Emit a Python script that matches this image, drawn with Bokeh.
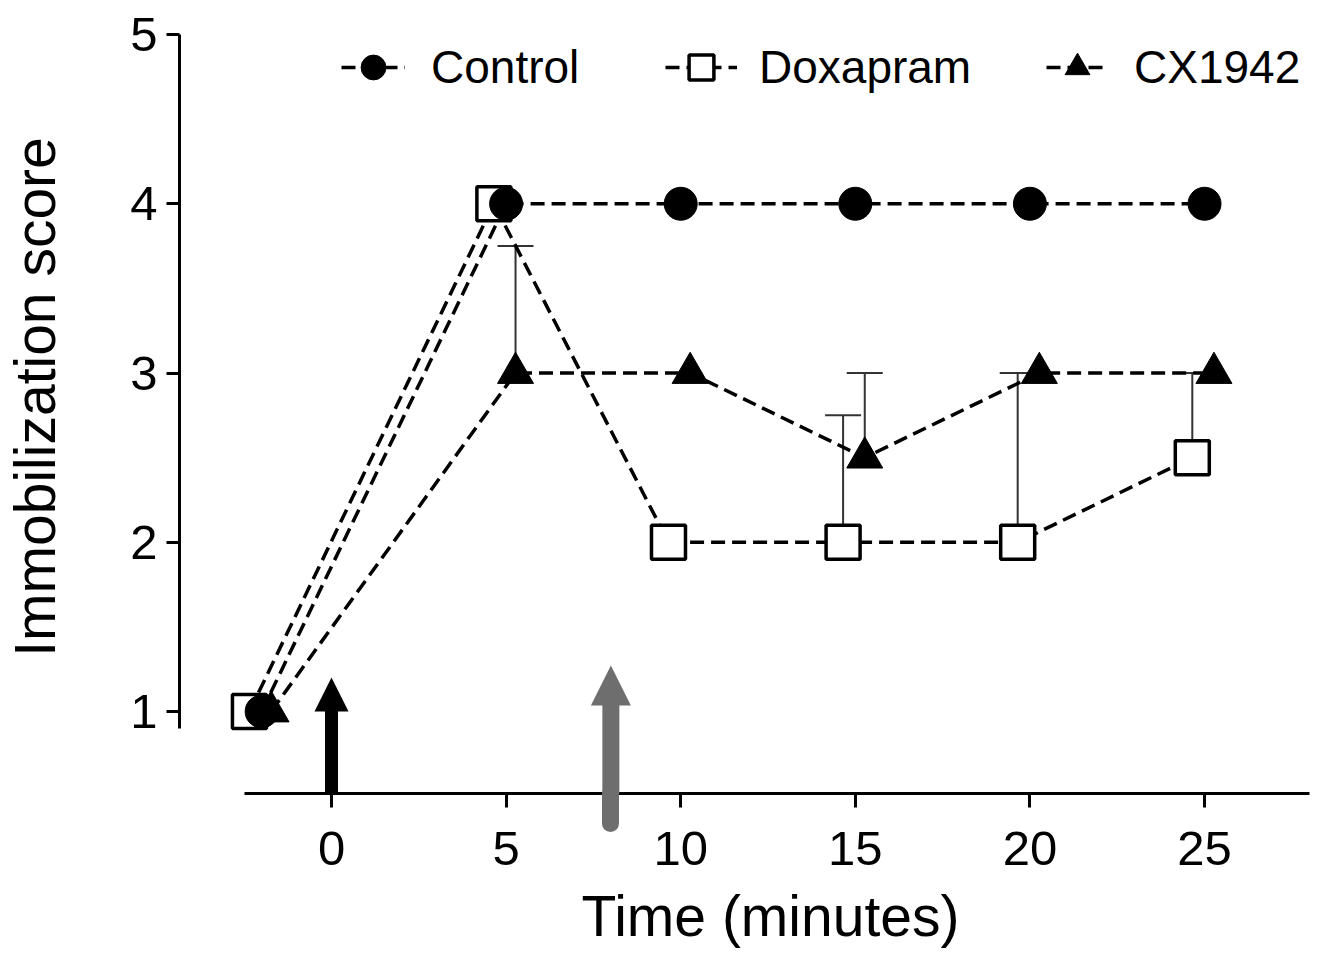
from bokeh.plotting import figure
from bokeh.models import (ColumnDataSource, FixedTicker, Whisker, TeeHead, Arrow,
                          NormalHead, Legend, LegendItem, Range1d, Title)
from bokeh.transform import dodge
from bokeh.embed import file_html
from bokeh.resources import INLINE

# ---------------- data ----------------
time_min = [-2, 5, 10, 15, 20, 25]
control = [1, 4, 4, 4, 4, 4]
doxapram = [1, 4, 2, 2, 2, 2.5]
doxapram_err = [0, 0, 0, 0.75, 1.0, 0.5]
cx1942 = [1, 3, 3, 2.5, 3, 3]
cx1942_err = [0, 0.75, 0, 0.5, 0, 0]
x_ticks = [0, 5, 10, 15, 20, 25]
y_ticks = [1, 2, 3, 4, 5]
injection_times = [0, 8]   # black arrow, gray arrow

FONT = "Liberation Sans"
DASH = "14 7"
ARROW_COLORS = ["black", "#6e6e6e"]

src = ColumnDataSource(dict(t=time_min, control=control, dox=doxapram, cx=cx1942))

def err_source(vals, errs):
    t = [ti for ti, e in zip(time_min, errs) if e > 0]
    lo = [v for v, e in zip(vals, errs) if e > 0]
    up = [v + e for v, e in zip(vals, errs) if e > 0]
    return ColumnDataSource(dict(t=t, lower=lo, upper=up))

p = figure(width=1318, height=965,
           x_range=Range1d(-4.353, 28.035), y_range=Range1d(0.5155, 5.2009),
           output_backend="svg", toolbar_location=None,
           min_border_left=179, min_border_top=0, min_border_right=8, min_border_bottom=172)
p.outline_line_color = None
p.grid.visible = False
p.background_fill_color = "white"

# ---------------- axes ----------------
xa = p.xaxis[0]
# the gray arrow's tail below the axis is drawn as the (only) minor tick
xa.ticker = FixedTicker(ticks=x_ticks, minor_ticks=[injection_times[1]])
xa.bounds = (-2.5, 28)
ya = p.yaxis[0]
ya.ticker = FixedTicker(ticks=y_ticks)
ya.bounds = (0.9, 5)
for ax in (xa, ya):
    ax.axis_line_width = 3
    ax.axis_line_color = "black"
    ax.major_tick_line_width = 3
    ax.major_tick_line_color = "black"
    ax.major_tick_in = 0
    ax.minor_tick_in = 0
    ax.major_label_text_font = FONT
    ax.major_label_text_font_size = "49px"
    ax.major_label_text_color = "black"
xa.major_tick_out = 14
xa.minor_tick_out = 30
xa.major_label_standoff = 8
xa.minor_tick_line_width = 17
xa.minor_tick_line_color = ARROW_COLORS[1]
xa.minor_tick_line_cap = "round"
ya.minor_tick_out = 0
ya.major_tick_out = 13
ya.major_label_standoff = 9
ya.axis_label = "Immobilization score"
ya.axis_label_text_font = FONT
ya.axis_label_text_font_size = "57px"
ya.axis_label_text_font_style = "normal"
ya.axis_label_text_color = "black"
ya.axis_label_standoff = 60

p.add_layout(Title(text="Time (minutes)", align="left", offset=402, vertical_align="bottom",
                   standoff=28, text_font=FONT, text_font_size="57px",
                   text_font_style="normal", text_color="black"), "below")

# ---------------- error bars ----------------
dx_dox = dodge("t", -0.35, range=p.x_range)
dx_ctl = dodge("t", 0.0, range=p.x_range)
dx_cx = dodge("t", 0.27, range=p.x_range)

for vals, errs, dx in ((doxapram, doxapram_err, -0.35), (cx1942, cx1942_err, 0.27)):
    es = err_source(vals, errs)
    w = Whisker(source=es, base=dodge("t", dx, range=p.x_range), lower="lower", upper="upper",
                dimension="height", line_color="#333333", line_width=2,
                lower_head=None,
                upper_head=TeeHead(size=36, line_color="#333333", line_width=2))
    p.add_layout(w)

# ---------------- lines ----------------
l_dox = p.line(dx_dox, "dox", source=src, line_color="black", line_width=3.5, line_dash=DASH)
l_ctl = p.line(dx_ctl, "control", source=src, line_color="black", line_width=3.5, line_dash=DASH)
l_cx = p.line(dx_cx, "cx", source=src, line_color="black", line_width=3.5, line_dash=DASH)

# ---------------- markers ----------------
m_dox = p.scatter(dx_dox, "dox", source=src, marker="square", size=34,
                  fill_color="white", line_color="black", line_width=3.5)
m_ctl = p.scatter(dx_ctl, "control", source=src, marker="circle", size=33,
                  fill_color="black", line_color="black", line_width=1)
m_cx = p.scatter(dx_cx, "cx", source=src, marker="triangle", size=36,
                 fill_color="black", line_color="black", line_width=1)

# ---------------- arrows ----------------
shaft_src = ColumnDataSource(dict(
    x=injection_times, y0=[0.45, 0.45], y1=[1.05, 1.08], width=[13, 17], color=ARROW_COLORS))
p.add_layout(Arrow(source=shaft_src, x_start="x", y_start="y0", x_end="x", y_end="y1",
                   line_color="color", line_width="width", end=None))
head_src = ColumnDataSource(dict(
    x=injection_times, y0=[1.0, 1.03], y1=[1.201, 1.272], size=[34, 40], color=ARROW_COLORS))
p.add_layout(Arrow(source=head_src, x_start="x", y_start="y0", x_end="x", y_end="y1",
                   line_alpha=0, line_width=1,
                   end=NormalHead(size="size", fill_color="color", line_color=None,
                                  line_width=0)))

# ---------------- legend ----------------
for label, rends, xloc, gw in (("Control", [l_ctl, m_ctl], 162, 64),
                               ("Doxapram", [l_dox, m_dox], 486, 72),
                               ("CX1942", [l_cx, m_cx], 867, 62)):
    leg = Legend(items=[LegendItem(label=label, renderers=rends)], location=(xloc, 695),
                 orientation="horizontal", glyph_width=gw, glyph_height=62, label_height=62,
                 label_standoff=26 if gw < 70 else 22, padding=0, margin=0,
                 border_line_color=None, background_fill_alpha=0, label_text_font=FONT,
                 label_text_font_size="46px", label_text_color="black")
    p.add_layout(leg)

open("out.html", "w").write(file_html(p, INLINE))
